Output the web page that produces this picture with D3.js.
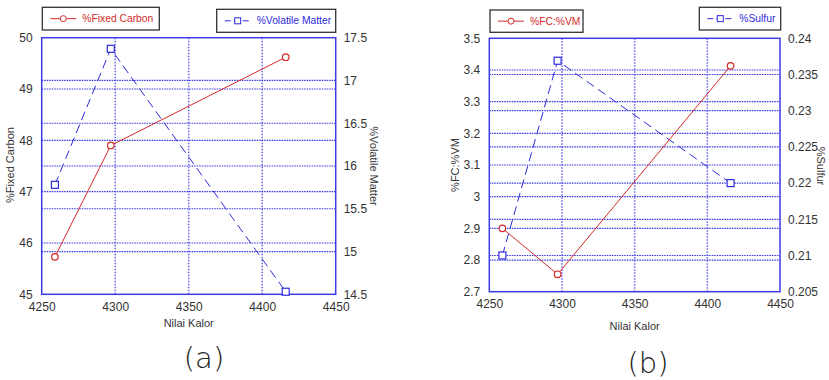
<!DOCTYPE html>
<html>
<head>
<meta charset="utf-8">
<script src="https://cdn.jsdelivr.net/npm/d3@7"></script>
<style>
  body { margin: 0; background: #fff; }
  svg { display: block; font-family: "Liberation Sans", Arial, sans-serif; }
</style>
</head>
<body>
<div id="chart"></div>
<script>
// values
var nilaiKalor = [4259, 4297, 4416];
var fixedCarbon = [45.73, 47.9, 49.62];
var volatileMatter = [15.78, 17.37, 14.53];
var fcVm = [2.9, 2.755, 3.413];
var sulfur = [0.21, 0.2369, 0.22];

var xTicks = [4250, 4300, 4350, 4400, 4450];
var fcTicks = [45, 46, 47, 48, 49, 50];
var vmTicks = [14.5, 15, 15.5, 16, 16.5, 17, 17.5];
var ratioTicks = [2.7, 2.8, 2.9, 3, 3.1, 3.2, 3.3, 3.4, 3.5];
var sulfurTicks = [0.205, 0.21, 0.215, 0.22, 0.225, 0.23, 0.235, 0.24];

var red = '#d42a2a', blue = '#2b2bdc', grid = '#3434e0';
var width = 829, height = 380;
var svg = d3.select('#chart').append('svg').attr('width', width).attr('height', height);

var panels = [
  {box: [41.7, 335.7, 37.7, 294.3], left: fixedCarbon, right: volatileMatter,
   lTicks: fcTicks, rTicks: vmTicks, lName: '%Fixed Carbon', rName: '%Volatile Matter',
   lLabelX: 10, rLabelX: 374, xLabelY: 327, tag: '(a)', tagX: 204, tagY: 368,
   leg1: [42.3, 7.3, 117, 22.7], leg2: [216.7, 9.3, 119, 23]},
  {box: [489.3, 780, 38.3, 291.7], left: fcVm, right: sulfur,
   lTicks: ratioTicks, rTicks: sulfurTicks, lName: '%FC:%VM', rName: '%Sulfur',
   lLabelX: 455, rLabelX: 821, xLabelY: 330, tag: '(b)', tagX: 648, tagY: 373,
   leg1: [490, 10, 93, 22.3], leg2: [699.3, 7.3, 81.4, 22.7]}
];

panels.forEach(function(p) {
  var x = d3.scaleLinear().domain([4250, 4450]).range([p.box[0], p.box[1]]);
  var yl = d3.scaleLinear().domain(d3.extent(p.lTicks)).range([p.box[3], p.box[2]]);
  var yr = d3.scaleLinear().domain(d3.extent(p.rTicks)).range([p.box[3], p.box[2]]);
  var g = svg.append('g');

  // dotted grid lines from both y axes and x axis
  g.selectAll('.vg').data(xTicks.slice(1, -1)).enter().append('line')
    .attr('x1', x).attr('x2', x).attr('y1', p.box[2]).attr('y2', p.box[3])
    .attr('stroke', grid).attr('stroke-width', 1.6).attr('stroke-dasharray', '1.5,1.5').attr('opacity', 0.7);
  g.selectAll('.lg').data(p.lTicks.slice(1, -1)).enter().append('line')
    .attr('x1', p.box[0]).attr('x2', p.box[1]).attr('y1', yl).attr('y2', yl)
    .attr('stroke', grid).attr('stroke-width', 1.2).attr('stroke-dasharray', '1.5,1');
  g.selectAll('.rg').data(p.rTicks.slice(1, -1)).enter().append('line')
    .attr('x1', p.box[0]).attr('x2', p.box[1]).attr('y1', yr).attr('y2', yr)
    .attr('stroke', grid).attr('stroke-width', 1.2).attr('stroke-dasharray', '1.5,1');

  g.append('rect').attr('x', p.box[0]).attr('y', p.box[2])
    .attr('width', p.box[1] - p.box[0]).attr('height', p.box[3] - p.box[2])
    .attr('fill', 'none').attr('stroke', '#3a3ae6').attr('stroke-width', 1.5);

  // axes
  var ax = g.append('g').attr('transform', 'translate(0,' + p.box[3] + ')')
    .call(d3.axisBottom(x).tickValues(xTicks).tickFormat(String).tickSize(0).tickPadding(8));
  var al = g.append('g').attr('transform', 'translate(' + p.box[0] + ',0)')
    .call(d3.axisLeft(yl).tickValues(p.lTicks).tickFormat(String).tickSize(0).tickPadding(9));
  var ar = g.append('g').attr('transform', 'translate(' + p.box[1] + ',0)')
    .call(d3.axisRight(yr).tickValues(p.rTicks).tickFormat(String).tickSize(0).tickPadding(8));
  [ax, al, ar].forEach(function(a) {
    a.select('.domain').remove();
    a.selectAll('text').attr('fill', '#333').style('font-size', '12px').style('font-family', '"Liberation Sans", Arial, sans-serif');
  });

  g.append('text').attr('x', (p.box[0] + p.box[1]) / 2).attr('y', p.xLabelY)
    .attr('text-anchor', 'middle').attr('fill', '#333').style('font-size', '11px').text('Nilai Kalor');
  g.append('text').attr('transform', 'translate(' + p.lLabelX + ',' + 165 + ') rotate(-90)')
    .attr('text-anchor', 'middle').attr('dy', '0.35em').attr('fill', '#333').style('font-size', '11px').text(p.lName);
  g.append('text').attr('transform', 'translate(' + p.rLabelX + ',' + 166 + ') rotate(90)')
    .attr('text-anchor', 'middle').attr('dy', '0.35em').attr('fill', '#333').style('font-size', '11px').text(p.rName);

  // series
  var lineL = d3.line().x(function(d, i) { return x(nilaiKalor[i]); }).y(function(d) { return yl(d); });
  var lineR = d3.line().x(function(d, i) { return x(nilaiKalor[i]); }).y(function(d) { return yr(d); });
  g.append('path').attr('d', lineR(p.right)).attr('fill', 'none').attr('stroke', blue)
    .attr('stroke-width', 1).attr('stroke-dasharray', '9,5');
  g.selectAll('.sq').data(p.right).enter().append('rect')
    .attr('x', function(d, i) { return x(nilaiKalor[i]) - 3.5; }).attr('y', function(d) { return yr(d) - 3.5; })
    .attr('width', 7).attr('height', 7).attr('fill', 'white').attr('stroke', blue).attr('stroke-width', 1.2);
  g.append('path').attr('d', lineL(p.left)).attr('fill', 'none').attr('stroke', red).attr('stroke-width', 1);
  g.selectAll('.ci').data(p.left).enter().append('circle')
    .attr('cx', function(d, i) { return x(nilaiKalor[i]); }).attr('cy', function(d) { return yl(d); })
    .attr('r', 3.3).attr('fill', 'white').attr('stroke', red).attr('stroke-width', 1.2);

  // legends
  function legend(b, name, color, square, dashed) {
    var lg = g.append('g');
    lg.append('rect').attr('x', b[0]).attr('y', b[1]).attr('width', b[2]).attr('height', b[3])
      .attr('fill', 'white').attr('stroke', '#333').attr('stroke-width', 1.3);
    var cy = b[1] + b[3] / 2, x0 = b[0] + 8;
    lg.append('line').attr('x1', x0).attr('x2', x0 + 26).attr('y1', cy).attr('y2', cy)
      .attr('stroke', color).attr('stroke-width', 1).attr('stroke-dasharray', dashed ? '6,3' : null);
    if (square) {
      lg.append('rect').attr('x', x0 + 10).attr('y', cy - 3).attr('width', 6).attr('height', 6)
        .attr('fill', 'white').attr('stroke', color);
    } else {
      lg.append('circle').attr('cx', x0 + 13).attr('cy', cy).attr('r', 3)
        .attr('fill', 'white').attr('stroke', color);
    }
    lg.append('text').attr('x', x0 + 32).attr('y', cy).attr('dy', '0.35em')
      .attr('fill', color).style('font-size', '10.3px').text(name);
  }
  legend(p.leg1, p.lName, red, false, false);
  legend(p.leg2, p.rName, blue, true, true);

  g.append('text').attr('x', p.tagX).attr('y', p.tagY).attr('text-anchor', 'middle')
    .attr('fill', '#222').style('font-family', '"DejaVu Sans", sans-serif').style('font-size', '29px')
    .style('font-weight', 300).text(p.tag);
});
</script>
</body>
</html>
